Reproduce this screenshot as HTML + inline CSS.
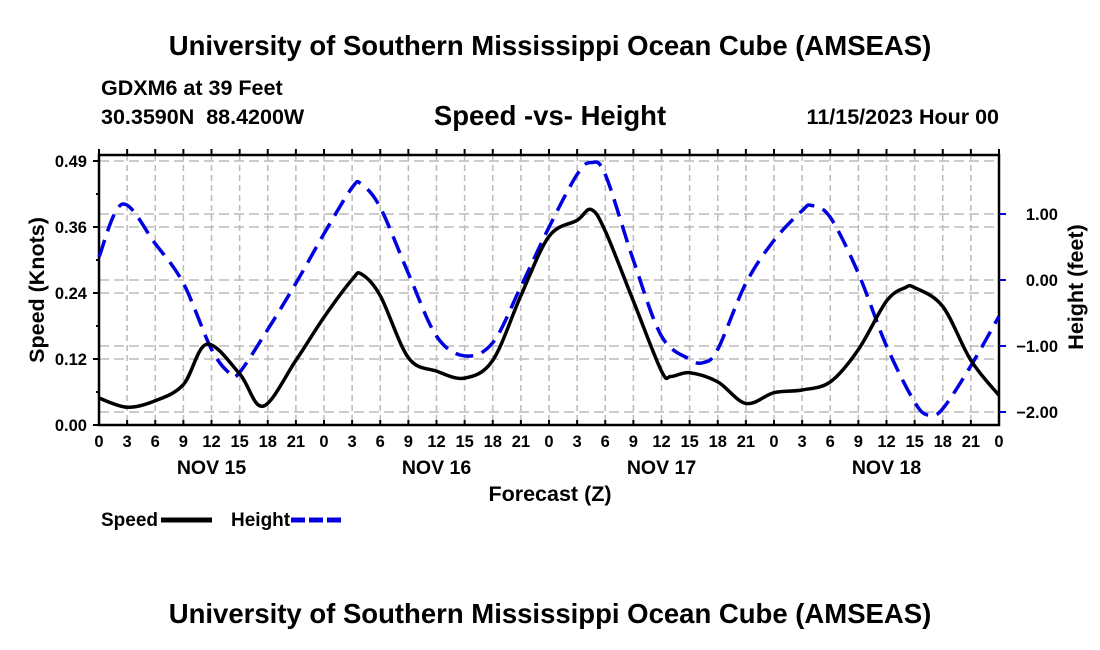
<!DOCTYPE html>
<html><head><meta charset="utf-8"><style>
html,body{margin:0;padding:0;background:#fff;}
svg{display:block;font-family:"Liberation Sans",sans-serif;font-weight:bold;}
</style></head><body>
<svg id="chart" width="1100" height="650" viewBox="0 0 1100 650">
<text x="550" y="55" font-size="27.5" text-anchor="middle">University of Southern Mississippi Ocean Cube (AMSEAS)</text>
<text x="101" y="95" font-size="21.5">GDXM6 at 39 Feet</text>
<text x="101" y="124" font-size="21.5" xml:space="preserve">30.3590N  88.4200W</text>
<text x="550" y="125" font-size="27.5" text-anchor="middle">Speed -vs- Height</text>
<text x="999" y="124" font-size="21.5" text-anchor="end">11/15/2023 Hour 00</text>
<g id="grid"></g>
<g id="axes"></g>
<g id="series"></g>
<text transform="translate(44,290) rotate(-90)" font-size="21.5" text-anchor="middle">Speed (Knots)</text>
<text transform="translate(1083,287) rotate(-90)" font-size="21.5" text-anchor="middle">Height (feet)</text>
<text x="550" y="501" font-size="21.5" text-anchor="middle">Forecast (Z)</text>
<g>
<text x="101" y="526" font-size="19">Speed</text>
<line x1="161" y1="520" x2="212" y2="520" stroke="#000" stroke-width="5"/>
<text x="231" y="526" font-size="19">Height</text>
<line x1="291" y1="520" x2="342" y2="520" stroke="#0000e0" stroke-width="5" stroke-dasharray="14,4"/>
</g>
<text x="550" y="623" font-size="27.5" text-anchor="middle">University of Southern Mississippi Ocean Cube (AMSEAS)</text>
</svg>
<script>
const speedHours=[0,3,6,9,11.5,15,17.5,21,24,27,28,30,33,36,39,42,45,48,51,52.5,54,57,60,61,63,66,69,72,75,78,81,84,86,87,90,93,96];
const speedValues=[0.05,0.033,0.045,0.075,0.15,0.095,0.035,0.12,0.2,0.27,0.28,0.24,0.125,0.1,0.087,0.12,0.24,0.35,0.38,0.4,0.36,0.23,0.1,0.09,0.097,0.08,0.04,0.06,0.065,0.08,0.14,0.23,0.255,0.255,0.22,0.12,0.055];
const heightHours=[0,2.5,6,9,12,14,15,18,21,24,27,28,30,33,36,39,42,45,48,51,52.5,54,57,60,63,64.5,66,69,72,75,76,78,81,84,87,88.5,90,93,96];
const heightValues=[0.35,1.15,0.55,-0.05,-1.05,-1.42,-1.4,-0.75,-0.05,0.7,1.4,1.45,1.1,0.1,-0.85,-1.15,-0.95,-0.1,0.8,1.6,1.78,1.6,0.3,-0.85,-1.2,-1.25,-1.05,-0.05,0.6,1.05,1.13,0.95,0.1,-1.0,-1.85,-2.05,-1.95,-1.3,-0.55];
const xTickLabels=["0","3","6","9","12","15","18","21"];
const dayLabels=["NOV 15","NOV 16","NOV 17","NOV 18"];
const leftTicks=[0,0.1225,0.245,0.3675,0.49];
const leftTickLabels=["0.00","0.12","0.24","0.36","0.49"];
const rightTicks=[1,0,-1,-2];
const rightTickLabels=["1.00","0.00","\u22121.00","\u22122.00"];

const NS="http://www.w3.org/2000/svg";
const L=99,R=999,T=155,B=425;
const xS=h=>L+h*(R-L)/96;
const yS=s=>B-s*(B-161)/0.49;
const yH=v=>280-v*66;
function mk(tag,attrs,parent){const e=document.createElementNS(NS,tag);for(const k in attrs)e.setAttribute(k,attrs[k]);parent.appendChild(e);return e;}
const grid=document.getElementById('grid'),axes=document.getElementById('axes'),series=document.getElementById('series');
for(let h=3;h<96;h+=3){const l=mk('line',{x1:xS(h),x2:xS(h),y1:T,y2:B,stroke:'#bbb','stroke-width':1.5,'stroke-dasharray':'6,4'},grid);

}
leftTicks.slice(1).forEach(v=>{const l=mk('line',{x1:L,x2:R,y1:yS(v),y2:yS(v),stroke:'#bbb','stroke-width':1.5,'stroke-dasharray':'10,5'},grid);

});
rightTicks.forEach(v=>{const l=mk('line',{x1:L,x2:R,y1:yH(v),y2:yH(v),stroke:'#bbb','stroke-width':1.5,'stroke-dasharray':'10,5'},grid);

});
const fr=mk('rect',{x:L,y:T,width:R-L,height:B-T,fill:'none',stroke:'#000','stroke-width':2.5},axes);


for(let h=0;h<=96;h+=3){
 mk('line',{x1:xS(h),x2:xS(h),y1:B,y2:B-5,stroke:'#000','stroke-width':2},axes);
 mk('line',{x1:xS(h),x2:xS(h),y1:T,y2:T-6,stroke:'#000','stroke-width':2},axes);
 const t=mk('text',{x:xS(h),y:B+22,'font-size':16.5,'text-anchor':'middle'},axes);
 t.textContent=xTickLabels[(h/3)%8];
 
 
}
dayLabels.forEach((d,i)=>{const t=mk('text',{x:xS(i*24+12),y:B+49,'font-size':19.5,'text-anchor':'middle'},axes);t.textContent=d;

});
leftTicks.forEach((v,i)=>{mk('line',{x1:L,x2:L-6,y1:yS(v),y2:yS(v),stroke:'#000','stroke-width':2},axes);
const t=mk('text',{x:L-12,y:yS(v)+6,'font-size':16.5,'text-anchor':'end'},axes);t.textContent=leftTickLabels[i];

});
for(let v=0.06125;v<0.49;v+=0.1225)mk('line',{x1:L,x2:L-3,y1:yS(v),y2:yS(v),stroke:'#000','stroke-width':2},axes);
rightTicks.forEach((v,i)=>{mk('line',{x1:R,x2:R+7,y1:yH(v),y2:yH(v),stroke:'#0000e0','stroke-width':2},axes);
const t=mk('text',{x:1058,y:yH(v)+6,'font-size':16.5,'text-anchor':'end'},axes);t.textContent=rightTickLabels[i];

});
function smooth(pts){let d=`M${pts[0][0]},${pts[0][1]}`;
for(let i=0;i<pts.length-1;i++){const p0=pts[Math.max(0,i-1)],p1=pts[i],p2=pts[i+1],p3=pts[Math.min(pts.length-1,i+2)];
d+=` C${p1[0]+(p2[0]-p0[0])/6},${p1[1]+(p2[1]-p0[1])/6} ${p2[0]-(p3[0]-p1[0])/6},${p2[1]-(p3[1]-p1[1])/6} ${p2[0]},${p2[1]}`;}return d;}
const hp=mk('path',{d:smooth(heightHours.map((h,i)=>[xS(h),yH(heightValues[i])])),fill:'none',stroke:'#0000e0','stroke-width':3.5,'stroke-dasharray':'18,9'},series);


const sp=mk('path',{d:smooth(speedHours.map((h,i)=>[xS(h),yS(speedValues[i])])),fill:'none',stroke:'#000','stroke-width':3.5},series);


</script>
</body></html>
